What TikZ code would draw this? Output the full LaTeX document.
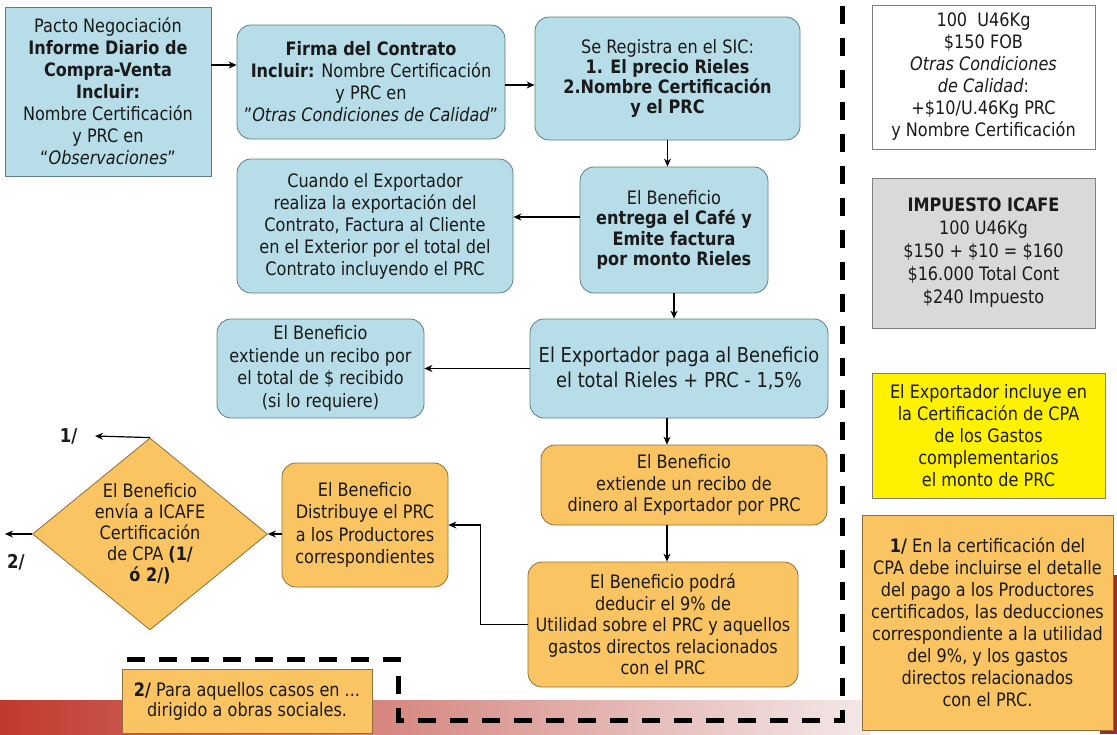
\documentclass[tikz,border=0pt]{standalone}
\usepackage{fontspec}
\setmainfont{DejaVu Sans}[FakeStretch=0.87]
\usetikzlibrary{arrows.meta,positioning,shapes.geometric}
\definecolor{boxblue}{HTML}{B7DDE8}
\definecolor{boxorange}{HTML}{FAC462}
\definecolor{boxgray}{HTML}{D9D9D9}
\definecolor{lineblue}{HTML}{5F7D85}
\definecolor{lineorange}{HTML}{8F6E3A}
\definecolor{linegray}{HTML}{7F7F7F}
\definecolor{txt}{HTML}{1A1A1A}
\definecolor{bardark}{HTML}{C03A2E}
\definecolor{barmid}{HTML}{D29A98}
\definecolor{barlight}{HTML}{F3E9E9}
\tikzset{
    box/.style={draw,line width=0.8pt,align=center,inner sep=2pt,text=txt,
        font=\fontsize{18.5}{22}\selectfont},
    bluebox/.style={box,draw=lineblue,fill=boxblue,rounded corners=14pt},
    orangebox/.style={box,draw=lineorange,fill=boxorange,rounded corners=14pt},
    note/.style={box,draw=linegray},
    lbl/.style={text=txt,font=\bfseries\fontsize{19}{22}\selectfont},
    pre/.style={->,line width=1.2pt,>={Stealth[length=8pt,width=7pt]}},
    fence/.style={line width=5pt,dash pattern=on 18pt off 14pt}
}

\begin{document}
\begin{tikzpicture}[x=1pt,y=-1pt]
\useasboundingbox (0,0) rectangle (1117,734);

% slide background
\shade[left color=bardark,middle color=barmid,right color=barlight] (0,700) rectangle (870,734);
\fill[bardark!80!black] (1100,575) rectangle (1117,734);

% left column
\node[note,fill=boxblue,draw=lineblue,minimum width=206pt,minimum height=169pt] (pacto) at (108,91.5)
    {Pacto Negociación\\ \textbf{Informe Diario de}\\ \textbf{Compra-Venta}\\ \textbf{Incluir:}\\
     Nombre Certificación\\ y PRC en\\ “\textit{Observaciones}”};
\node[bluebox,minimum width=268pt,minimum height=114pt] (firma) at (371,82)
    {\textbf{Firma del Contrato}\\ \textbf{Incluir:} Nombre Certificación\\ y PRC en\\
     "\textit{Otras Condiciones de Calidad}"};
\node[bluebox,minimum width=265pt,minimum height=123pt,font=\fontsize{18.5}{20}\selectfont] (sic) at (667.5,78.5)
    {Se Registra en el SIC:\\ \textbf{1. El precio Rieles}\\ \textbf{2.Nombre Certificación}\\ \textbf{y el PRC}};
\node[bluebox,minimum width=188pt,minimum height=126pt,font=\fontsize{18.5}{20.5}\selectfont] (entrega) at (674,230)
    {El Beneficio\\ \textbf{entrega el Café y}\\ \textbf{Emite factura}\\ \textbf{por monto Rieles}};
\node[bluebox,minimum width=276pt,minimum height=134pt] (exporta) at (375,226)
    {Cuando el Exportador\\ realiza la exportación del\\ Contrato, Factura al Cliente\\
     en el Exterior por el total del\\ Contrato incluyendo el PRC};
\node[bluebox,minimum width=298pt,minimum height=99pt,font=\fontsize{20.5}{25}\selectfont] (paga) at (679,368.5)
    {El Exportador paga al Beneficio\\ el total Rieles + PRC - 1,5\%};
\node[bluebox,minimum width=207pt,minimum height=99pt,font=\fontsize{18.5}{22.5}\selectfont] (recibo) at (320.5,368.5)
    {El Beneficio\\ extiende un recibo por\\ el total de \$ recibido\\ (si lo requiere)};
\node[orangebox,minimum width=286pt,minimum height=80pt,font=\fontsize{18.5}{21.5}\selectfont] (dinero) at (684,485)
    {El Beneficio\\ extiende un recibo de\\ dinero al Exportador por PRC};
\node[orangebox,minimum width=270pt,minimum height=125pt,font=\fontsize{18.5}{21.5}\selectfont] (podra) at (663,624.5)
    {El Beneficio podrá\\ deducir el 9\% de\\ Utilidad sobre el PRC y aquellos\\
     gastos directos relacionados\\ con el PRC};
\node[orangebox,minimum width=166pt,minimum height=124pt,font=\fontsize{18.5}{22.5}\selectfont] (distribuye) at (365,525)
    {El Beneficio\\ Distribuye el PRC\\ a los Productores\\ correspondientes};
\node[box,diamond,draw=lineorange,fill=boxorange,minimum width=235pt,minimum height=192pt,
      inner sep=-25pt,font=\fontsize{18.5}{21}\selectfont] (envia) at (150,534)
    {El Beneficio\\ envía a ICAFE\\ Certificación\\ de CPA \textbf{(1/}\\ \textbf{ó 2/)}};
\node[note,draw=lineorange,fill=boxorange,minimum width=250pt,minimum height=64pt,
      font=\fontsize{18.5}{20}\selectfont] (casos) at (247,701)
    {\textbf{2/} Para aquellos casos en ...\\ dirigido a obras sociales.};

% free ends of the two outputs
\coordinate (out1) at (95,436);
\coordinate (out2) at (5,534);
\node[lbl] (uno) [left=14pt of out1] {1/};
\node[lbl] (dos) at (16,562) {2/};

% right column
\node[note,fill=white,minimum width=223pt,minimum height=144pt] (ejemplo) at (983.5,77)
    {100~ U46Kg\\ \$150 FOB\\ \textit{Otras Condiciones}\\ \textit{de Calidad}:\\
     +\$10/U.46Kg PRC\\ y Nombre Certificación};
\node[note,fill=boxgray,minimum width=223pt,minimum height=150pt,font=\fontsize{18.5}{23}\selectfont] (impuesto) at (983.5,253)
    {\textbf{IMPUESTO ICAFE}\\ 100 U46Kg\\ \$150 + \$10 = \$160\\ \$16.000 Total Cont\\ \$240 Impuesto};
\node[note,fill=yellow,minimum width=233pt,minimum height=125pt] (incluye) at (988.5,435.5)
    {El Exportador incluye en\\ la Certificación de CPA\\ de los Gastos\\ complementarios\\ el monto de PRC};
\node[note,draw=lineorange,fill=boxorange,minimum width=251pt,minimum height=215pt] (detalle) at (987.5,622.5)
    {\textbf{1/} En la certificación del\\ CPA debe incluirse el detalle\\ del pago a los Productores\\
     certificados, las deducciones\\ correspondiente a la utilidad\\ del 9\%, y los gastos\\
     directos relacionados\\ con el PRC.};

% connectors
\draw[pre] (pacto.east |- 0,65) -- (firma.west |- 0,65);
\draw[pre] (firma.east |- 0,85) -- (sic.west |- 0,85);
\draw[pre] (sic.south) -- (sic.south |- entrega.north);
\draw[pre] (entrega.west |- 0,217) -- (exporta.east |- 0,217);
\draw[pre] (entrega.south) -- (entrega.south |- paga.north);
\draw[pre] (paga.west) -- (recibo.east);
\draw[pre] (paga.south -| 667,0) -- (dinero.north -| 667,0);
\draw[pre] (dinero.south -| 667,0) -- (podra.north -| 667,0);
\draw[pre] (podra.west) -| ([xshift=32pt]distribuye.east) -- (distribuye.east);
\draw[pre] (distribuye.west |- envia.east) -- (envia.east);
\draw[pre] (envia.north) -- (out1);
\draw[pre] (envia.west) -- (out2);

% dashed frame
\draw[fence] (842,6) -- (842,720) -- (398,720) -- (398,659) -- (115,659);

\end{tikzpicture}
\end{document}
